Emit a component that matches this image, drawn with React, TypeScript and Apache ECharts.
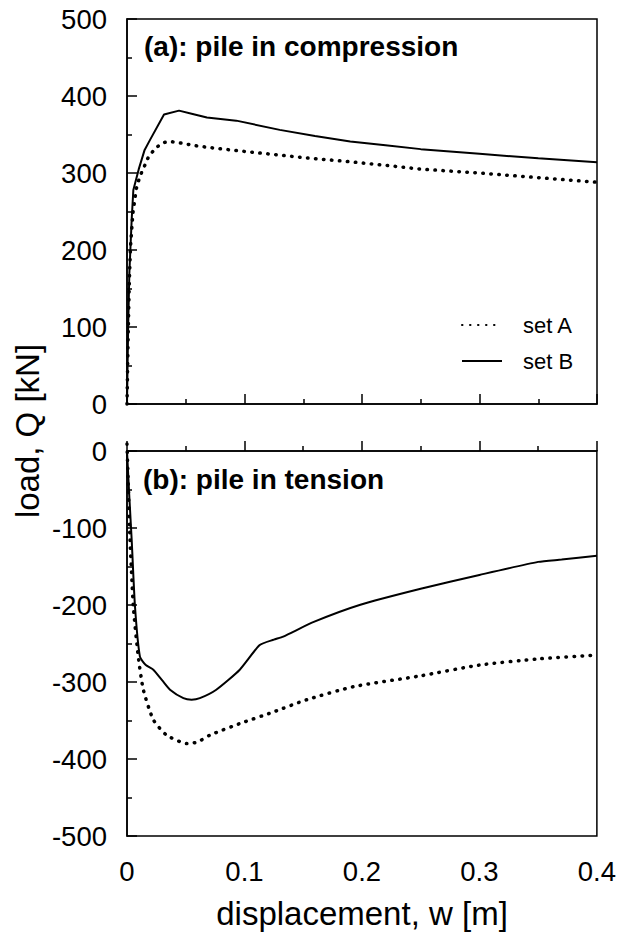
import React, { useEffect, useRef } from "react";
import * as echarts from "echarts";

// displacement w [m], load Q [kN]
const compressionSetA: [number, number][] = [
  [0, 0], [0.001, 90], [0.002, 160], [0.003, 205], [0.005, 248], [0.008, 280],
  [0.011, 296], [0.014, 306], [0.018, 320], [0.024, 332], [0.03, 339], [0.035, 341],
  [0.042, 340], [0.049, 338], [0.06, 335], [0.076, 332], [0.1, 328], [0.119, 325],
  [0.15, 320], [0.187, 315], [0.22, 310], [0.25, 305], [0.3, 300], [0.35, 294], [0.4, 288],
];
const compressionSetB: [number, number][] = [
  [0, 0], [0.001, 100], [0.002, 170], [0.004, 240], [0.0054, 278], [0.01, 305],
  [0.015, 330], [0.0196, 343], [0.0315, 376], [0.0443, 381], [0.055, 377], [0.068, 372],
  [0.093, 368], [0.13, 356], [0.16, 348], [0.19, 341], [0.22, 336], [0.25, 331],
  [0.3, 325], [0.35, 319], [0.4, 314],
];
const tensionSetA: [number, number][] = [
  [0, 9], [0.001, -40], [0.0026, -116], [0.0054, -202], [0.0096, -267], [0.0139, -310],
  [0.0224, -349], [0.0337, -369], [0.051, -380], [0.06, -378], [0.0706, -369],
  [0.096, -354], [0.1245, -339], [0.153, -323], [0.193, -306], [0.25, -292],
  [0.3, -278], [0.35, -270], [0.4, -265],
];
const tensionSetB: [number, number][] = [
  [0, 0], [0.002, -60], [0.004, -116], [0.0068, -202], [0.011, -267], [0.016, -278],
  [0.0224, -284], [0.03, -298], [0.0366, -310], [0.048, -321], [0.055, -323],
  [0.062, -321], [0.076, -310], [0.096, -284], [0.113, -252], [0.125, -245],
  [0.133, -241], [0.159, -222], [0.198, -200], [0.25, -179], [0.3, -161],
  [0.35, -144], [0.37, -141], [0.4, -136],
];

const seriesNames = ["set A", "set B"];
const panelTitles = ["(a): pile in compression", "(b): pile in tension"];
const xTitle = "displacement, w [m]";
const yTitle = "load, Q [kN]";

const FONT = "'Liberation Sans', Arial, Helvetica, sans-serif";

export default function App() {
  const ref = useRef<HTMLDivElement>(null);

  useEffect(() => {
    document.body.style.margin = "0";
    if (!ref.current) return;
    const chart = echarts.init(ref.current, undefined, { renderer: "svg" });

    const axisLine = { lineStyle: { color: "#000", width: 1.5 } };
    const axisTick = { inside: true, length: 10, lineStyle: { color: "#000", width: 1.5 } };
    const minorTick = { show: true, splitNumber: 2, length: 5, lineStyle: { color: "#000", width: 1.5 } };
    const labelStyle = { color: "#000", fontSize: 27.5, fontFamily: FONT };

    const xBase = (gridIndex: number, showLabel: boolean) => ({
      type: "value" as const,
      gridIndex,
      min: 0,
      max: 0.4,
      interval: 0.1,
      axisLine,
      axisTick,
      minorTick,
      splitLine: { show: false },
      axisLabel: {
        show: showLabel,
        ...labelStyle,
        margin: 21,
        formatter: (v: number) => String(Math.round(v * 10) / 10),
      },
    });
    const yBase = (gridIndex: number, min: number, max: number) => ({
      type: "value" as const,
      gridIndex,
      min,
      max,
      interval: 100,
      axisLine,
      axisTick,
      minorTick,
      splitLine: { show: false },
      axisLabel: { ...labelStyle, margin: 20 },
    });

    const dotted = { color: "#000", width: 3.5, type: [0.5, 7.5], cap: "round" as const };
    const solid = { color: "#000", width: 2, type: "solid" as const };

    const mk = (name: string, data: [number, number][], idx: number, style: any, smooth: number) => ({
      type: "line" as const,
      name,
      xAxisIndex: idx,
      yAxisIndex: idx,
      data,
      showSymbol: false,
      symbol: "none",
      clip: false,
      smooth,
      lineStyle: style,
      itemStyle: { color: "#000" },
    });

    chart.setOption({
      animation: false,
      backgroundColor: "#fff",
      grid: [
        { left: 127, top: 19, width: 470, height: 385, show: true, borderColor: "#000", borderWidth: 1.5, backgroundColor: "transparent" },
        { left: 127, top: 451, width: 470, height: 385, show: true, borderColor: "#000", borderWidth: 1.5, backgroundColor: "transparent" },
      ],
      xAxis: [xBase(0, false), xBase(1, true)],
      yAxis: [yBase(0, 0, 500), yBase(1, -500, 0)],
      legend: {
        orient: "vertical",
        left: 456,
        top: 309,
        itemWidth: 40,
        itemHeight: 14,
        itemGap: 14,
        data: seriesNames,
        itemStyle: { opacity: 0 },
        textStyle: { color: "#000", fontSize: 22, fontFamily: FONT, padding: [0, 0, 0, 16] },
      },
      series: [
        mk(seriesNames[0], compressionSetA, 0, dotted, 0),
        mk(seriesNames[1], compressionSetB, 0, solid, 0),
        mk(seriesNames[0], tensionSetA, 1, dotted, 0.2),
        mk(seriesNames[1], tensionSetB, 1, solid, 0.2),
      ],
      graphic: [
        {
          type: "text",
          left: 144,
          top: 32,
          style: { text: panelTitles[0], fontSize: 28, fontWeight: "bold", fontFamily: FONT, fill: "#000" },
        },
        {
          type: "text",
          left: 143,
          top: 465,
          style: { text: panelTitles[1], fontSize: 28, fontWeight: "bold", fontFamily: FONT, fill: "#000" },
        },
        {
          type: "text",
          x: 362,
          y: 913,
          style: { text: xTitle, fontSize: 33, fontFamily: FONT, fill: "#000", align: "center", verticalAlign: "middle" },
        },
        {
          type: "text",
          x: 27,
          y: 431,
          rotation: Math.PI / 2,
          style: { text: yTitle, fontSize: 33, fontFamily: FONT, fill: "#000", align: "center", verticalAlign: "middle" },
        },
      ],
    });

    return () => chart.dispose();
  }, []);

  return <div ref={ref} style={{ width: 619, height: 936 }} />;
}
